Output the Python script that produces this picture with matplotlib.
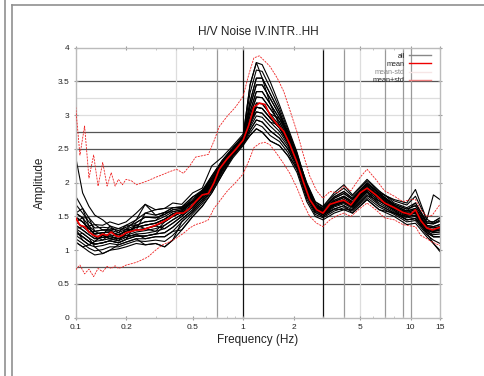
import matplotlib
matplotlib.use("Agg")
import matplotlib.pyplot as plt
from matplotlib.lines import Line2D

plt.rcParams['font.family'] = ['Liberation Sans', 'DejaVu Sans']

# ---------------- data ----------------
freq = [0.1, 0.106, 0.113, 0.12, 0.128, 0.136, 0.145, 0.154, 0.163, 0.172, 0.18, 0.19,
        0.2, 0.215, 0.23, 0.25, 0.27, 0.3, 0.33, 0.36, 0.4, 0.44, 0.48, 0.52, 0.57,
        0.62, 0.67, 0.72, 0.8, 0.9, 1.0, 1.08, 1.16, 1.25, 1.35, 1.45, 1.6, 1.75,
        1.9, 2.1, 2.3, 2.5, 2.75, 3.0, 3.3, 3.7, 4.0, 4.4, 5.0, 5.5, 6.2, 7.0, 8.0,
        9.0, 10.0, 10.7, 11.5, 12.5, 13.5, 15.0]

mean = [1.48, 1.37, 1.35, 1.27, 1.22, 1.20, 1.24, 1.22, 1.27, 1.22, 1.20, 1.22,
        1.26, 1.28, 1.30, 1.30, 1.33, 1.37, 1.42, 1.47, 1.55, 1.55, 1.62, 1.72, 1.82,
        1.84, 2.00, 2.20, 2.35, 2.49, 2.63, 2.85, 3.12, 3.18, 3.16, 3.00, 2.86, 2.76,
        2.57, 2.30, 2.00, 1.75, 1.60, 1.55, 1.68, 1.72, 1.74, 1.67, 1.85, 1.92, 1.82,
        1.70, 1.63, 1.56, 1.53, 1.60, 1.44, 1.33, 1.30, 1.34]

mean_plus_std = [3.12, 2.41, 2.84, 2.07, 2.41, 1.95, 2.30, 1.95, 2.15, 1.95, 2.05, 1.97,
                 2.05, 2.03, 1.97, 2.00, 2.03, 2.08, 2.12, 2.16, 2.20, 2.14, 2.25, 2.38,
                 2.40, 2.42, 2.62, 2.83, 2.98, 3.12, 3.28, 3.60, 3.85, 3.88, 3.80, 3.72,
                 3.55, 3.35, 3.08, 2.75, 2.40, 2.10, 1.88, 1.77, 1.87, 1.85, 1.95, 1.88,
                 2.08, 2.20, 2.05, 1.88, 1.80, 1.72, 1.75, 1.75, 1.60, 1.50, 1.52, 1.68]

mean_minus_std = [0.71, 0.78, 0.65, 0.72, 0.61, 0.73, 0.68, 0.76, 0.73, 0.77, 0.73, 0.75,
                  0.78, 0.80, 0.82, 0.86, 0.90, 1.00, 1.08, 1.12, 1.18, 1.25, 1.33, 1.38,
                  1.41, 1.45, 1.62, 1.72, 1.87, 2.00, 2.13, 2.32, 2.52, 2.58, 2.60, 2.56,
                  2.42, 2.28, 2.14, 1.92, 1.68, 1.50, 1.40, 1.35, 1.45, 1.52, 1.55, 1.50,
                  1.62, 1.70, 1.60, 1.48, 1.45, 1.38, 1.36, 1.35, 1.22, 1.17, 1.12, 1.07]

freq_all = [0.1, 0.11, 0.12, 0.13, 0.145, 0.16, 0.18, 0.2, 0.23, 0.26, 0.3, 0.34, 0.38,
            0.43, 0.5, 0.57, 0.65, 0.75, 0.87, 1.0, 1.1, 1.2, 1.3, 1.45, 1.65, 1.85,
            2.1, 2.4, 2.7, 3.0, 3.5, 4.0, 4.5, 5.5, 6.5, 8.0, 9.5, 10.7, 12.5, 13.7, 15.0]

all_curves = [
    [2.38, 1.85, 1.65, 1.52, 1.45, 1.36, 1.32, 1.37, 1.37, 1.42, 1.44, 1.50, 1.57, 1.60, 1.73, 1.86, 2.10, 2.33, 2.52, 2.69, 3.45, 3.78, 3.75, 3.50, 3.15, 2.82, 2.45, 1.96, 1.69, 1.59, 1.74, 1.80, 1.72, 1.96, 1.82, 1.66, 1.58, 1.62, 1.37, 1.35, 1.38],
    [1.80, 1.62, 1.48, 1.38, 1.37, 1.42, 1.38, 1.42, 1.55, 1.68, 1.52, 1.56, 1.63, 1.64, 1.79, 1.89, 2.04, 2.29, 2.50, 2.66, 3.20, 3.55, 3.55, 3.32, 3.05, 2.76, 2.40, 2.00, 1.72, 1.65, 1.85, 1.97, 1.82, 2.05, 1.88, 1.70, 1.63, 1.70, 1.42, 1.42, 1.48],
    [1.55, 1.48, 1.36, 1.28, 1.30, 1.30, 1.26, 1.31, 1.45, 1.55, 1.60, 1.62, 1.70, 1.68, 1.85, 1.92, 2.25, 2.38, 2.55, 2.72, 3.05, 3.35, 3.35, 3.17, 2.95, 2.70, 2.35, 1.93, 1.66, 1.62, 1.79, 1.87, 1.77, 2.00, 1.85, 1.75, 1.70, 1.90, 1.45, 1.82, 1.75],
    [1.42, 1.35, 1.27, 1.28, 1.30, 1.30, 1.20, 1.25, 1.30, 1.32, 1.36, 1.42, 1.50, 1.56, 1.68, 1.82, 1.99, 2.25, 2.47, 2.63, 2.92, 3.18, 3.17, 3.02, 2.85, 2.63, 2.31, 1.89, 1.63, 1.56, 1.70, 1.75, 1.68, 1.92, 1.78, 1.62, 1.54, 1.57, 1.33, 1.30, 1.32],
    [1.32, 1.25, 1.18, 1.13, 1.15, 1.23, 1.20, 1.31, 1.37, 1.42, 1.44, 1.56, 1.63, 1.64, 1.73, 1.82, 1.95, 2.21, 2.44, 2.61, 2.85, 3.05, 3.03, 2.90, 2.76, 2.57, 2.27, 1.85, 1.60, 1.53, 1.66, 1.71, 1.64, 1.87, 1.73, 1.59, 1.50, 1.52, 1.30, 1.26, 1.27],
    [1.22, 1.15, 1.08, 1.05, 1.07, 1.10, 1.08, 1.12, 1.17, 1.17, 1.20, 1.20, 1.28, 1.42, 1.57, 1.72, 1.90, 2.17, 2.41, 2.58, 2.78, 2.93, 2.90, 2.77, 2.66, 2.50, 2.22, 1.80, 1.56, 1.50, 1.61, 1.66, 1.60, 1.81, 1.67, 1.55, 1.45, 1.47, 1.26, 1.20, 1.20],
    [1.12, 1.05, 0.98, 0.93, 0.95, 1.00, 1.02, 1.05, 1.10, 1.08, 1.10, 1.05, 1.15, 1.30, 1.50, 1.65, 1.85, 2.12, 2.37, 2.55, 2.70, 2.80, 2.75, 2.62, 2.55, 2.40, 2.15, 1.72, 1.50, 1.45, 1.55, 1.60, 1.55, 1.75, 1.60, 1.50, 1.38, 1.40, 1.20, 1.10, 0.98],
    [1.55, 1.48, 1.27, 1.20, 1.22, 1.17, 1.14, 1.19, 1.24, 1.25, 1.28, 1.32, 1.40, 1.50, 1.63, 1.78, 1.99, 2.25, 2.47, 2.63, 3.05, 3.35, 3.35, 3.17, 2.85, 2.63, 2.31, 1.89, 1.63, 1.59, 1.74, 1.80, 1.72, 1.96, 1.78, 1.62, 1.54, 1.57, 1.30, 1.26, 1.27],
    [1.32, 1.35, 1.36, 1.38, 1.30, 1.30, 1.32, 1.31, 1.30, 1.32, 1.36, 1.32, 1.40, 1.50, 1.68, 1.86, 2.04, 2.29, 2.50, 2.66, 3.20, 3.55, 3.55, 3.17, 2.95, 2.70, 2.35, 1.93, 1.66, 1.59, 1.70, 1.75, 1.68, 1.92, 1.82, 1.66, 1.58, 1.62, 1.37, 1.35, 1.38],
    [1.22, 1.25, 1.18, 1.05, 0.95, 1.00, 1.08, 1.12, 1.17, 1.08, 1.10, 1.05, 1.15, 1.42, 1.57, 1.72, 1.90, 2.21, 2.44, 2.61, 2.78, 2.93, 2.90, 2.77, 2.66, 2.50, 2.27, 1.85, 1.60, 1.53, 1.66, 1.71, 1.64, 1.87, 1.67, 1.55, 1.45, 1.47, 1.26, 1.20, 1.20],
    [1.42, 1.48, 1.48, 1.28, 1.22, 1.23, 1.14, 1.25, 1.30, 1.55, 1.52, 1.56, 1.57, 1.60, 1.73, 1.89, 2.10, 2.33, 2.52, 2.69, 3.45, 3.78, 3.55, 3.32, 3.05, 2.70, 2.35, 1.89, 1.63, 1.56, 1.66, 1.71, 1.64, 1.87, 1.73, 1.62, 1.54, 1.57, 1.33, 1.30, 1.32],
    [1.12, 1.05, 1.08, 1.13, 1.22, 1.17, 1.20, 1.19, 1.24, 1.17, 1.20, 1.20, 1.28, 1.30, 1.50, 1.65, 1.85, 2.12, 2.41, 2.58, 2.70, 2.80, 2.75, 2.62, 2.55, 2.40, 2.22, 1.80, 1.56, 1.50, 1.61, 1.60, 1.60, 1.81, 1.73, 1.59, 1.45, 1.47, 1.26, 1.10, 1.00],
    [1.55, 1.62, 1.36, 1.20, 1.15, 1.17, 1.14, 1.25, 1.37, 1.32, 1.28, 1.42, 1.50, 1.56, 1.63, 1.78, 1.95, 2.21, 2.44, 2.61, 2.85, 3.18, 3.17, 3.02, 2.95, 2.76, 2.40, 1.96, 1.69, 1.62, 1.79, 1.87, 1.77, 2.00, 1.85, 1.66, 1.58, 1.70, 1.42, 1.42, 1.48],
    [1.32, 1.15, 1.08, 1.13, 1.22, 1.36, 1.26, 1.37, 1.45, 1.68, 1.60, 1.62, 1.63, 1.64, 1.79, 1.86, 1.99, 2.25, 2.47, 2.66, 2.92, 3.05, 3.03, 2.90, 2.85, 2.63, 2.31, 1.89, 1.60, 1.53, 1.61, 1.66, 1.55, 1.75, 1.60, 1.55, 1.50, 1.52, 1.30, 1.20, 1.20],
    [1.37, 1.30, 1.23, 1.17, 1.19, 1.20, 1.17, 1.22, 1.27, 1.29, 1.32, 1.37, 1.45, 1.53, 1.66, 1.80, 1.97, 2.23, 2.46, 2.62, 2.89, 3.12, 3.10, 2.96, 2.81, 2.60, 2.29, 1.87, 1.62, 1.55, 1.68, 1.73, 1.66, 1.90, 1.76, 1.61, 1.52, 1.55, 1.32, 1.28, 1.30],
    [1.49, 1.42, 1.32, 1.24, 1.26, 1.27, 1.23, 1.28, 1.34, 1.37, 1.40, 1.46, 1.54, 1.58, 1.71, 1.84, 2.02, 2.27, 2.49, 2.65, 2.99, 3.27, 3.26, 3.10, 2.90, 2.67, 2.33, 1.91, 1.65, 1.58, 1.72, 1.78, 1.70, 1.94, 1.80, 1.64, 1.56, 1.60, 1.35, 1.33, 1.35],
    [1.27, 1.20, 1.13, 1.09, 1.11, 1.14, 1.11, 1.16, 1.21, 1.21, 1.24, 1.26, 1.34, 1.46, 1.60, 1.75, 1.93, 2.19, 2.43, 2.60, 2.82, 2.99, 2.97, 2.84, 2.71, 2.54, 2.25, 1.83, 1.58, 1.52, 1.64, 1.69, 1.62, 1.84, 1.70, 1.57, 1.48, 1.50, 1.28, 1.23, 1.24],
    [1.68, 1.55, 1.42, 1.33, 1.34, 1.33, 1.29, 1.34, 1.41, 1.49, 1.48, 1.53, 1.60, 1.62, 1.76, 1.88, 2.07, 2.31, 2.51, 2.68, 3.13, 3.45, 3.45, 3.25, 3.00, 2.73, 2.38, 1.95, 1.68, 1.61, 1.77, 1.84, 1.75, 1.98, 1.84, 1.68, 1.61, 1.66, 1.40, 1.39, 1.43],
    [1.49, 1.42, 1.32, 1.24, 1.26, 1.27, 1.23, 1.28, 1.34, 1.37, 1.40, 1.46, 1.54, 1.58, 1.71, 1.84, 2.07, 2.31, 2.51, 2.68, 3.33, 3.67, 3.65, 3.41, 3.10, 2.79, 2.43, 1.98, 1.71, 1.64, 1.82, 1.92, 1.80, 2.03, 1.87, 1.73, 1.67, 1.80, 1.46, 1.40, 1.45],
    [1.37, 1.30, 1.23, 1.17, 1.19, 1.20, 1.17, 1.22, 1.21, 1.21, 1.24, 1.26, 1.34, 1.46, 1.60, 1.75, 1.93, 2.19, 2.43, 2.60, 2.99, 3.27, 3.26, 3.10, 2.90, 2.67, 2.33, 1.91, 1.65, 1.58, 1.72, 1.78, 1.70, 1.94, 1.80, 1.64, 1.56, 1.60, 1.35, 1.33, 1.35],
    [1.27, 1.20, 1.13, 1.09, 1.11, 1.14, 1.11, 1.16, 1.41, 1.49, 1.48, 1.53, 1.60, 1.62, 1.71, 1.84, 1.97, 2.23, 2.46, 2.62, 2.89, 3.12, 3.10, 2.96, 2.81, 2.60, 2.29, 1.87, 1.62, 1.55, 1.68, 1.73, 1.66, 1.90, 1.76, 1.61, 1.52, 1.55, 1.32, 1.28, 1.30],
    [1.17, 1.10, 1.03, 0.99, 1.01, 1.05, 1.05, 1.09, 1.14, 1.13, 1.15, 1.13, 1.22, 1.36, 1.54, 1.69, 1.88, 2.15, 2.39, 2.57, 2.74, 2.87, 2.83, 2.70, 2.61, 2.45, 2.19, 1.76, 1.53, 1.48, 1.58, 1.63, 1.58, 1.78, 1.64, 1.53, 1.42, 1.44, 1.23, 1.15, 1.10],
    [1.49, 1.42, 1.32, 1.24, 1.26, 1.27, 1.23, 1.28, 1.34, 1.37, 1.40, 1.46, 1.54, 1.58, 1.71, 1.84, 2.02, 2.27, 2.49, 2.65, 2.89, 3.12, 3.10, 2.96, 2.81, 2.60, 2.29, 1.87, 1.65, 1.61, 1.77, 1.84, 1.75, 1.98, 1.84, 1.68, 1.61, 1.66, 1.40, 1.39, 1.43],
    [1.27, 1.20, 1.13, 1.09, 1.11, 1.14, 1.11, 1.16, 1.21, 1.21, 1.24, 1.37, 1.45, 1.53, 1.66, 1.80, 1.97, 2.23, 2.46, 2.62, 3.13, 3.45, 3.45, 3.25, 3.00, 2.73, 2.38, 1.95, 1.62, 1.55, 1.68, 1.73, 1.66, 1.90, 1.76, 1.61, 1.52, 1.55, 1.32, 1.28, 1.30],
]

hlines_dark = [0.5, 0.75, 1.5, 2.25, 2.5, 2.75, 3.5]
hlines_light = [1.25, 2.0, 3.0, 3.25]
vlines_black = [1.0, 3.0]
vlines_gray = [0.7, 4.0, 7.0, 9.0, 10.0]
vlines_light = [0.4, 5.0]

xticks = [0.1, 0.2, 0.5, 1, 2, 5, 10, 15]
xtick_labels = ["0.1", "0.2", "0.5", "1", "2", "5", "10", "15"]
yticks = [0, 0.5, 1, 1.5, 2, 2.5, 3, 3.5, 4]
ytick_labels = ["0", "0.5", "1", "1.5", "2", "2.5", "3", "3.5", "4"]

# ---------------- figure ----------------
fig = plt.figure(figsize=(4.84, 3.76), dpi=100)
ax = fig.add_axes([0.1564, 0.155, 0.7527, 0.718])

for y in hlines_dark:
    ax.axhline(y, color='#555555', lw=0.9, zorder=1)
for y in hlines_light:
    ax.axhline(y, color='#dddddd', lw=0.9, zorder=1)
for x in vlines_black:
    ax.axvline(x, color='#111111', lw=0.9, zorder=1)
for x in vlines_gray:
    ax.axvline(x, color='#999999', lw=0.9, zorder=1)
for x in vlines_light:
    ax.axvline(x, color='#dddddd', lw=0.9, zorder=1)

for i, c in enumerate(all_curves):
    ax.plot(freq_all, c, color='black', lw=0.8, zorder=2,
            label='all' if i == 0 else None)

ax.plot(freq, mean, color='#ee0000', lw=1.2, zorder=4, label='mean')
ax.plot(freq, mean_minus_std, color='#ee2222', lw=0.6, ls=(0, (2.5, 1.2)), zorder=3,
        label='mean-std')
ax.plot(freq, mean_plus_std, color='#ee2222', lw=0.6, ls=(0, (2.5, 1.2)), zorder=3,
        label='mean+std')

ax.set_xscale('log')
ax.set_xlim(0.1, 15)
ax.set_ylim(0, 4)
ax.set_xticks(xticks)
ax.set_xticklabels(xtick_labels)
ax.set_xticks([0.3, 0.4, 0.6, 0.7, 0.8, 0.9, 3, 4, 6, 7, 8, 9], minor=True)
ax.set_xticklabels([], minor=True)
ax.set_yticks(yticks)
ax.set_yticklabels(ytick_labels)

for s in ax.spines.values():
    s.set_color('#bbbbbb')
    s.set_linewidth(1.0)
ax.tick_params(which='major', labelsize=6, color='#999999', length=3, width=0.8,
               direction='inout', top=True, right=True, pad=3, labelcolor='#222222')
ax.tick_params(which='minor', color='#bbbbbb', length=1.5, width=0.6,
               direction='in', top=True, right=True)

ax.set_title('H/V Noise IV.INTR..HH', fontsize=8.5, pad=9, color='#222222')
ax.set_xlabel('Frequency (Hz)', fontsize=8.5, labelpad=2, color='#222222')
ax.set_ylabel('Amplitude', fontsize=8.5, labelpad=8, color='#222222')

handles = [Line2D([], [], color='#888888', lw=1.0),
           Line2D([], [], color='#ee0000', lw=1.0),
           Line2D([], [], color='#f6e6e6', lw=1.0),
           Line2D([], [], color='#f08080', lw=1.0)]
leg = ax.legend(handles, ['all', 'mean', 'mean-std', 'mean+std'],
                loc='upper right', bbox_to_anchor=(0.988, 1.0), frameon=False,
                markerfirst=False, fontsize=5.2, handlelength=3.0, handletextpad=0.6,
                labelspacing=0.15, borderpad=0.2)
for t, col in zip(leg.get_texts(), ['#222222', '#222222', '#888888', '#222222']):
    t.set_color(col)

# outer frame pieces (screen border)
fig.add_artist(Line2D([4.5 / 484, 4.5 / 484], [0, 1], color='#909090', lw=1.2))
fig.add_artist(Line2D([11.5 / 484, 11.5 / 484], [0, 1 - 5 / 376], color='#909090', lw=1.2))
fig.add_artist(Line2D([11.5 / 484, 1], [1 - 5 / 376, 1 - 5 / 376], color='#909090', lw=1.2))

fig.savefig('out.png', dpi=100)
